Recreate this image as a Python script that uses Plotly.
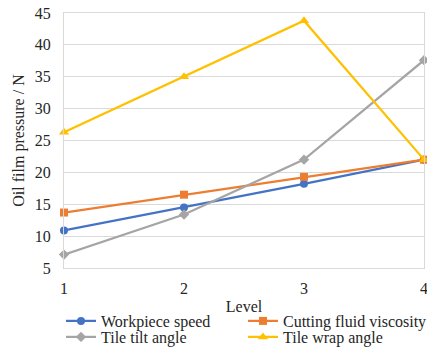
import plotly.graph_objects as go

levels = [1, 2, 3, 4]
workpiece_speed = [10.9, 14.5, 18.2, 22.0]
cutting_fluid_viscosity = [13.7, 16.5, 19.3, 22.0]
tile_tilt_angle = [7.1, 13.4, 22.0, 37.6]
tile_wrap_angle = [26.3, 35.0, 43.8, 22.0]

series = [
    ("Workpiece speed", workpiece_speed, "#4472C4", "circle", 8, "legend"),
    ("Cutting fluid viscosity", cutting_fluid_viscosity, "#ED7D31", "square", 8, "legend2"),
    ("Tile tilt angle", tile_tilt_angle, "#A5A5A5", "diamond", 8, "legend3"),
    ("Tile wrap angle", tile_wrap_angle, "#FFC000", "triangle-up", 9, "legend4"),
]

FAM = "Liberation Serif, serif"
TXT = "#262626"
FS = 16
fig = go.Figure()
for name, vals, color, sym, size, lg in series:
    fig.add_trace(go.Scatter(
        x=levels, y=vals, name=name, mode="lines+markers",
        line=dict(color=color, width=2.25),
        marker=dict(color=color, symbol=sym, size=size),
        cliponaxis=False, legend=lg,
    ))

font = dict(family=FAM, size=FS, color=TXT)
lc = dict(orientation="v", yanchor="middle", xanchor="left", itemwidth=30,
          font=dict(family=FAM, size=FS, color=TXT),
          bgcolor="rgba(0,0,0,0)", tracegroupgap=0)
# plot area: x 64..424, y 13..268
col1 = (61 - 64) / 360
col2 = (243 - 64) / 360
row1 = (268 - 321) / 255
row2 = (268 - 337) / 255
fig.update_layout(
    width=427, height=347,
    margin=dict(l=64, r=3, t=13, b=79, autoexpand=False),
    paper_bgcolor="white", plot_bgcolor="white",
    font=font,
    showlegend=True,
    legend=dict(x=col1, y=row1, **lc),
    legend2=dict(x=col2, y=row1, **lc),
    legend3=dict(x=col1, y=row2, **lc),
    legend4=dict(x=col2, y=row2, **lc),
)
fig.update_xaxes(
    range=[1, 4], tickvals=levels, ticktext=[str(v) for v in levels],
    tickfont=dict(family=FAM, size=FS, color=TXT), ticklabeloverflow="allow",
    showgrid=False, zeroline=False, automargin=False,
    showline=True, linecolor="#D9D9D9", linewidth=1, mirror=True,
    ticks="outside", ticklen=6, tickcolor="rgba(0,0,0,0)",
    title=dict(text="Level", standoff=4, font=dict(family=FAM, size=FS, color=TXT)),
)
fig.update_yaxes(
    range=[5, 45], dtick=5, tick0=5,
    tickfont=dict(family=FAM, size=FS, color=TXT),
    showgrid=True, gridcolor="#D9D9D9", gridwidth=1, zeroline=False, automargin=False,
    showline=True, linecolor="#D9D9D9", linewidth=1, mirror=True,
    ticks="outside", ticklen=9, tickcolor="rgba(0,0,0,0)",
    title=dict(text="Oil film pressure / N", standoff=6, font=dict(family=FAM, size=FS, color=TXT)),
)
fig.write_html("out.html", config={"displayModeBar": False},
               post_script="document.body.style.margin='0';")
